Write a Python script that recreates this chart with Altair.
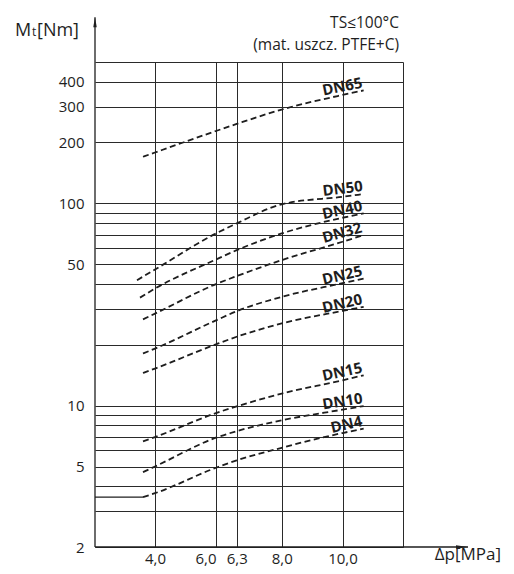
import altair as alt
import pandas as pd

# ---------------- data ----------------
series_names = ["DN65", "DN50", "DN40", "DN32", "DN25", "DN20", "DN15", "DN10", "DN4"]
x_start = [3.6, 3.4, 3.5, 3.6, 3.6, 3.6, 3.6, 3.6, 3.6]
x_common = [4.0, 6.0, 6.3, 8.0, 10.0, 10.7]

dn65 = [170, 178.5, 228, 247, 291, 343.6, 361.7]
dn50 = [41.7, 47.1, 71.0, 79.6, 98.9, 107.8, 111.2]
dn40 = [34.2, 37.9, 52.8, 58.7, 71.0, 84.9, 89.2]
dn32 = [26.7, 28.5, 39.9, 43.7, 52.4, 64.6, 69.7]
dn25 = [18.1, 19.15, 26.4, 29.3, 34.5, 40.3, 42.5]
dn20 = [14.5, 15.25, 20.1, 21.9, 25.5, 29.4, 30.8]
dn15 = [6.66, 6.99, 9.19, 9.92, 11.47, 13.34, 14.13]
dn10 = [4.69, 5.0, 6.94, 7.48, 8.46, 9.55, 9.95]
dn4 = [3.53, 3.69, 4.93, 5.36, 6.19, 7.32, 7.69]
series_values = [dn65, dn50, dn40, dn32, dn25, dn20, dn15, dn10, dn4]

# DN4 solid flat start segment
dn4_flat_x = [2.0, 3.6]
dn4_flat_y = [3.53, 3.53]

x_ticks = [4.0, 6.0, 6.3, 8.0, 10.0, 12.0]
y_grid = [2, 3, 4, 5, 6, 7, 8, 9, 10, 20, 30, 40, 50, 60, 70, 80, 90,
          100, 200, 300, 400, 500]
y_labelled = [2, 5, 10, 50, 100, 200, 300, 400]

# ---------------- styles ----------------
label_angles = [348.5, 353, 347.5, 344.5, 347, 347, 347.5, 351, 347]
FONT = "Open Sans"
INK = "#1e1e1e"
GRID = "#2a2a2a"

W, H = 308, 485

rows = []
for name, xs, vals in zip(series_names, x_start, series_values):
    for xv, yv in zip([xs] + x_common, vals):
        rows.append({"series": name, "x": xv, "y": yv})
df = pd.DataFrame(rows)

lab = pd.DataFrame({
    "series": series_names,
    "x": [x_common[-1]] * len(series_names),
    "y": [v[-1] for v in series_values],
    "angle": label_angles,
})
flat = pd.DataFrame({"x": dn4_flat_x, "y": dn4_flat_y})

xscale = alt.Scale(domain=[2, 4, 6, 6.3, 8, 10, 12],
                   range=[0, 60, 121, 141.7, 186.7, 247.5, 308],
                   nice=False, zero=False)
yscale = alt.Scale(type="log", domain=[2, 500], nice=False)

xlabel_expr = ("datum.value==12 ? '' : replace(format(datum.value, '.1f'), '.', ',')")
ylabel_expr = ("indexof([" + ",".join(str(v) for v in y_labelled) + "], datum.value) >= 0 ? "
               "format(datum.value, 'd') : ''")

X = alt.X("x:Q", scale=xscale,
          axis=alt.Axis(values=x_ticks, labelExpr=xlabel_expr, title=None,
                        grid=True, gridColor=GRID, gridWidth=1, gridOpacity=1,
                        ticks=False, domain=False, labelPadding=4,
                        labelFont=FONT, labelFontSize=15, labelColor=INK,
                        labelAlign={"condition": {"test": "datum.value == 6", "value": "right"},
                                    "value": "center"},
                        labelFlush=False, labelOverlap=False))
Y = alt.Y("y:Q", scale=yscale,
          axis=alt.Axis(values=y_grid, labelExpr=ylabel_expr, title=None,
                        grid=True, gridColor=GRID, gridWidth=1, gridOpacity=1,
                        ticks=False, domain=False, labelPadding=11,
                        labelFont=FONT, labelFontSize=15, labelColor=INK,
                        labelOverlap=False, labelFlush=False))

lines = alt.Chart(df).mark_line(
    color=INK, strokeWidth=1.8, strokeDash=[6, 3.5], interpolate="monotone"
).encode(x=X, y=Y, detail="series:N")

flat_line = alt.Chart(flat).mark_line(color=INK, strokeWidth=1.3).encode(
    x=alt.X("x:Q", scale=xscale), y=alt.Y("y:Q", scale=yscale))

labels = alt.Chart(lab).mark_text(
    font=FONT, fontSize=15, fontWeight="bold", color=INK,
    align="right", baseline="alphabetic", dx=0, dy=-3
).encode(x=alt.X("x:Q", scale=xscale), y=alt.Y("y:Q", scale=yscale),
         text="series:N", angle=alt.Angle("angle:Q", scale=None))

# axis lines with arrows
y_axis_line = alt.Chart(pd.DataFrame({"a": [0]})).mark_rule(color=INK, strokeWidth=1.3).encode(
    x=alt.value(0), y=alt.value(-44.7), y2=alt.value(H))
x_axis_line = alt.Chart(pd.DataFrame({"a": [0]})).mark_rule(color=INK, strokeWidth=1.3).encode(
    x=alt.value(0), x2=alt.value(373), y=alt.value(H))
y_arrow = alt.Chart(pd.DataFrame({"a": [0]})).mark_point(
    shape="M0,-1L0.35,1L-0.35,1Z", filled=True, color=INK, size=100, opacity=1
).encode(x=alt.value(0), y=alt.value(-39.7))
x_arrow = alt.Chart(pd.DataFrame({"a": [0]})).mark_point(
    shape="M1,0L-1,-0.3L-1,0.3Z", filled=True, color=INK, size=144, opacity=1
).encode(x=alt.value(367), y=alt.value(H))

def txt(s, x, y, size, align="left", weight="normal"):
    return alt.Chart(pd.DataFrame({"t": [s]})).mark_text(
        font=FONT, fontSize=size, color=INK, align=align, baseline="alphabetic",
        fontWeight=weight
    ).encode(x=alt.value(x), y=alt.value(y), text="t:N")

texts = [
    txt("M", -80, -25.7, 18),
    txt("t", -63, -25.7, 12),
    txt("[Nm]", -58, -25.7, 18),
    txt("TS≤100°C", 304, -34.5, 15.5, align="right"),
    txt("(mat. uszcz. PTFE+C)", 304, -12.5, 15.5, align="right"),
    txt("Δp[MPa]", 406, 498, 17, align="right"),
]

chart = alt.layer(
    lines, flat_line, labels, y_axis_line, x_axis_line, y_arrow, x_arrow, *texts
).properties(
    width=W, height=H,
    autosize=alt.AutoSizeParams(type="none"),
    padding={"left": 87, "top": 54, "right": 103, "bottom": 19},
    background="white",
).configure_view(stroke=None)

chart.save("out.html", embed_options={"renderer": "svg", "actions": False})
